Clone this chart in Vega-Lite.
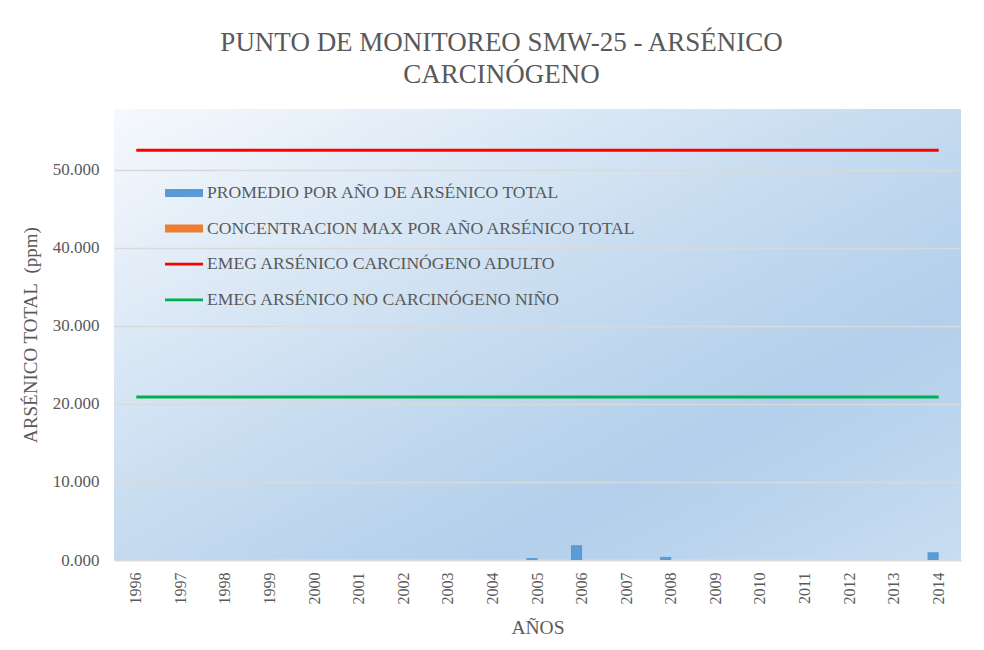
{
  "$schema": "https://vega.github.io/schema/vega-lite/v6.json",
  "width": 847,
  "height": 451,
  "autosize": {"type": "none"},
  "padding": {"left": 114, "top": 109, "right": 23, "bottom": 90},
  "background": "#ffffff",
  "config": {
    "font": "Liberation Serif",
    "view": {
      "stroke": null,
      "fill": {
        "gradient": "linear",
        "x1": 0, "y1": 0, "x2": 1, "y2": 1,
        "stops": [
          {"offset": 0, "color": "#f6f9fd"},
          {"offset": 0.5, "color": "#c4daef"},
          {"offset": 0.72, "color": "#b3cfeb"},
          {"offset": 1, "color": "#c8ddf1"}
        ]
      }
    }
  },
  "title": {
    "text": ["PUNTO DE MONITOREO SMW-25 - ARSÉNICO", "CARCINÓGENO"],
    "font": "Liberation Serif",
    "fontSize": 27,
    "fontWeight": "normal",
    "color": "#595959",
    "anchor": "middle",
    "dx": -36,
    "offset": 20,
    "lineHeight": 32
  },
  "datasets": {
    "barras": [
      {"anio": "2005", "serie": "PROMEDIO POR AÑO DE ARSÉNICO TOTAL", "valor": 0.25},
      {"anio": "2006", "serie": "PROMEDIO POR AÑO DE ARSÉNICO TOTAL", "valor": 1.9},
      {"anio": "2008", "serie": "PROMEDIO POR AÑO DE ARSÉNICO TOTAL", "valor": 0.4},
      {"anio": "2014", "serie": "PROMEDIO POR AÑO DE ARSÉNICO TOTAL", "valor": 1.0},
      {"anio": "2005", "serie": "CONCENTRACION MAX POR AÑO ARSÉNICO TOTAL", "valor": 0},
      {"anio": "2006", "serie": "CONCENTRACION MAX POR AÑO ARSÉNICO TOTAL", "valor": 0},
      {"anio": "2008", "serie": "CONCENTRACION MAX POR AÑO ARSÉNICO TOTAL", "valor": 0},
      {"anio": "2014", "serie": "CONCENTRACION MAX POR AÑO ARSÉNICO TOTAL", "valor": 0}
    ],
    "lineas": [
      {"anio": "1996", "serie": "EMEG ARSÉNICO CARCINÓGENO ADULTO", "valor": 52.5},
      {"anio": "2014", "serie": "EMEG ARSÉNICO CARCINÓGENO ADULTO", "valor": 52.5},
      {"anio": "1996", "serie": "EMEG ARSÉNICO NO CARCINÓGENO NIÑO", "valor": 20.9},
      {"anio": "2014", "serie": "EMEG ARSÉNICO NO CARCINÓGENO NIÑO", "valor": 20.9}
    ]
  },
  "encoding": {
    "x": {
      "field": "anio",
      "type": "ordinal",
      "scale": {
        "domain": ["1996","1997","1998","1999","2000","2001","2002","2003","2004","2005","2006","2007","2008","2009","2010","2011","2012","2013","2014"],
        "paddingInner": 0,
        "paddingOuter": 0
      },
      "axis": {
        "title": "AÑOS",
        "titleFont": "Liberation Serif",
        "titleFontSize": 19.5,
        "titleFontWeight": "normal",
        "titleColor": "#595959",
        "titlePadding": 14,
        "labelAngle": -90,
        "labelAlign": "right",
        "labelBaseline": "middle",
        "labelFont": "Liberation Serif",
        "labelFontSize": 16,
        "labelColor": "#595959",
        "labelPadding": 12,
        "ticks": false,
        "domainColor": "#d9d9d9",
        "domainWidth": 1.5,
        "grid": false
      }
    },
    "y": {
      "field": "valor",
      "type": "quantitative",
      "scale": {"domain": [0, 57.8], "nice": false},
      "axis": {
        "title": "ARSÉNICO TOTAL\u00a0\u00a0(ppm)",
        "titleFont": "Liberation Serif",
        "titleFontSize": 19,
        "titleFontWeight": "normal",
        "titleColor": "#595959",
        "titlePadding": 12,
        "values": [0, 10, 20, 30, 40, 50],
        "format": ".3f",
        "labelFont": "Liberation Serif",
        "labelFontSize": 17,
        "labelColor": "#595959",
        "labelPadding": 15,
        "ticks": false,
        "domain": false,
        "grid": true,
        "gridColor": "#d9d9d9",
        "gridWidth": 1.5
      }
    }
  },
  "layer": [
    {
      "data": {"name": "barras"},
      "mark": {"type": "bar"},
      "encoding": {
        "xOffset": {
          "field": "serie",
          "type": "nominal",
          "scale": {
            "domain": ["PROMEDIO POR AÑO DE ARSÉNICO TOTAL", "CONCENTRACION MAX POR AÑO ARSÉNICO TOTAL"],
            "paddingInner": 0,
            "paddingOuter": 2.7
          }
        },
        "color": {
          "field": "serie",
          "type": "nominal",
          "scale": {
            "domain": ["PROMEDIO POR AÑO DE ARSÉNICO TOTAL", "CONCENTRACION MAX POR AÑO ARSÉNICO TOTAL", "EMEG ARSÉNICO CARCINÓGENO ADULTO", "EMEG ARSÉNICO NO CARCINÓGENO NIÑO"],
            "range": ["#5b9bd5", "#ed7d31", "#ff0000", "#00b050"]
          },
          "legend": {
            "title": null,
            "orient": "none",
            "legendX": 60,
            "legendY": 74,
            "direction": "vertical",
            "symbolSize": 400,
            "symbolStrokeWidth": 0,
            "symbolOpacity": 1,
            "rowPadding": 16.6,
            "labelOffset": 13,
            "labelFont": "Liberation Serif",
            "labelFontSize": 17.6,
            "labelColor": "#595959",
            "labelLimit": 600,
            "encode": {
              "symbols": {
                "update": {
                  "shape": {"signal": "indexof(datum.value, 'EMEG') === 0 ? 'M-1.9,-0.14 L1.9,-0.14 L1.9,0.14 L-1.9,0.14 Z' : 'M-1.9,-0.4 L1.9,-0.4 L1.9,0.4 L-1.9,0.4 Z'"},
                  "fill": {"scale": "color", "field": "value"},
                  "fillOpacity": {"value": 1},
                  "opacity": {"value": 1},
                  "strokeWidth": {"value": 0}
                }
              }
            }
          }
        }
      }
    },
    {
      "data": {"name": "lineas"},
      "mark": {"type": "line", "strokeWidth": 3},
      "encoding": {
        "color": {"field": "serie", "type": "nominal"}
      }
    }
  ]
}
